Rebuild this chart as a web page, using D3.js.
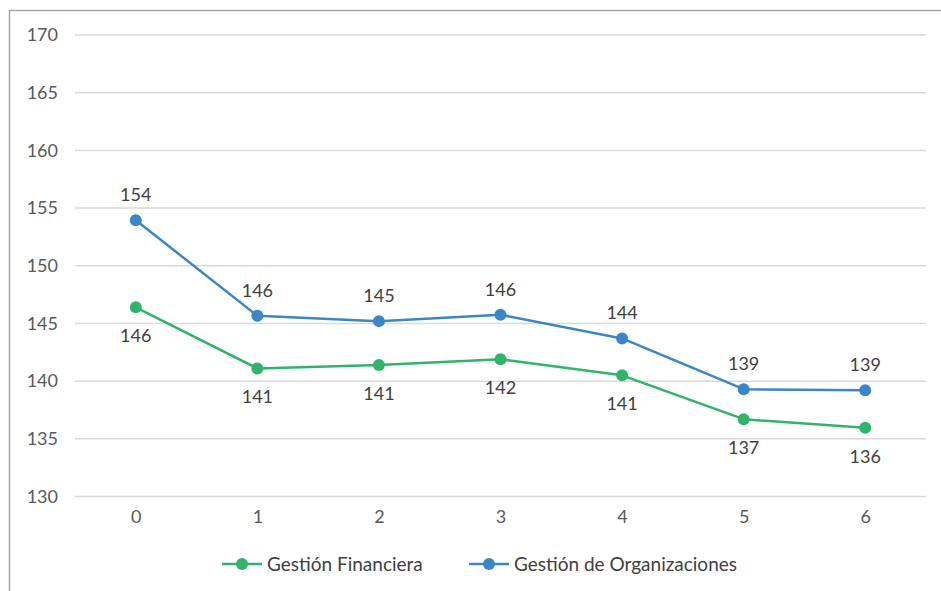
<!DOCTYPE html>
<html>
<head>
<meta charset="utf-8">
<script src="https://cdn.jsdelivr.net/npm/d3@7"></script>
<style>
  html, body { margin: 0; padding: 0; background: #fff; }
  svg { display: block; font-family: Lato, "Noto Sans", sans-serif; }
</style>
</head>
<body>
<div id="chart"></div>
<script>
// datos
const categories = [0, 1, 2, 3, 4, 5, 6];
const yTicks = [130, 135, 140, 145, 150, 155, 160, 165, 170];
const financiera = [146.4, 141.1, 141.4, 141.9, 140.5, 136.7, 135.95];
const organizaciones = [153.95, 145.66, 145.2, 145.75, 143.7, 139.3, 139.2];

const series = [
  {name: 'Gestión Financiera', values: financiera, color: '#2fb56b', labelDy: 35},
  {name: 'Gestión de Organizaciones', values: organizaciones, color: '#3a86c8', labelDy: -19}
];

const W = 941, H = 591;
const plot = {left: 75, right: 926, top: 35, bottom: 496.5};
const numSize = 18;

const svg = d3.select('#chart').append('svg')
  .attr('width', W).attr('height', H);

// marco
svg.append('path')
  .attr('d', `M9.5,${H} V10.5 H${W}`)
  .attr('fill', 'none')
  .attr('stroke', '#a6a6a6')
  .attr('stroke-width', 1.5);

const x = d3.scalePoint().domain(categories).range([plot.left, plot.right]).padding(0.5);
const y = d3.scaleLinear().domain([130, 170]).range([plot.bottom, plot.top]);

// rejilla
svg.append('g')
  .selectAll('line').data(yTicks).join('line')
    .attr('x1', plot.left).attr('x2', plot.right)
    .attr('y1', d => y(d)).attr('y2', d => y(d))
    .attr('stroke', '#d9d9d9').attr('stroke-width', 1.5);

// eje Y
const yAxis = svg.append('g')
  .attr('transform', `translate(${plot.left - 17},0)`)
  .call(d3.axisLeft(y).tickValues(yTicks).tickSize(0).tickPadding(0));
yAxis.select('.domain').remove();
yAxis.selectAll('text')
  .attr('font-size', numSize).attr('fill', '#595959')
  .attr('font-family', 'Lato, "Noto Sans", sans-serif');

// eje X
const xAxis = svg.append('g')
  .attr('transform', `translate(0,${plot.bottom + 12})`)
  .call(d3.axisBottom(x).tickSize(0).tickPadding(0));
xAxis.select('.domain').remove();
xAxis.selectAll('text')
  .attr('font-size', numSize).attr('fill', '#595959')
  .attr('dy', '0.8em')
  .attr('font-family', 'Lato, "Noto Sans", sans-serif');

// líneas
const line = d3.line().x((d, i) => x(categories[i])).y(d => y(d));

series.forEach(s => {
  const g = svg.append('g');
  g.append('path')
    .datum(s.values)
    .attr('d', line)
    .attr('fill', 'none')
    .attr('stroke', s.color)
    .attr('stroke-width', 2.5)
    .attr('stroke-linejoin', 'round');
  g.selectAll('circle').data(s.values).join('circle')
    .attr('cx', (d, i) => x(categories[i]))
    .attr('cy', d => y(d))
    .attr('r', 6)
    .attr('fill', s.color);
  g.selectAll('text').data(s.values).join('text')
    .attr('x', (d, i) => x(categories[i]))
    .attr('y', d => y(d) + s.labelDy)
    .attr('text-anchor', 'middle')
    .attr('font-size', numSize)
    .attr('fill', '#404040')
    .text(d => Math.round(d));
});

// leyenda
const legendItems = [
  {s: series[0], x: 222},
  {s: series[1], x: 469}
];
const ly = 564;
legendItems.forEach(({s, x: lx}) => {
  const g = svg.append('g');
  g.append('line')
    .attr('x1', lx).attr('x2', lx + 40)
    .attr('y1', ly).attr('y2', ly)
    .attr('stroke', s.color).attr('stroke-width', 2.5);
  g.append('circle')
    .attr('cx', lx + 20).attr('cy', ly).attr('r', 6)
    .attr('fill', s.color);
  g.append('text')
    .attr('x', lx + 45).attr('y', ly)
    .attr('dy', '0.35em')
    .attr('font-size', 19)
    .attr('fill', '#404040')
    .text(s.name);
});
</script>
</body>
</html>
